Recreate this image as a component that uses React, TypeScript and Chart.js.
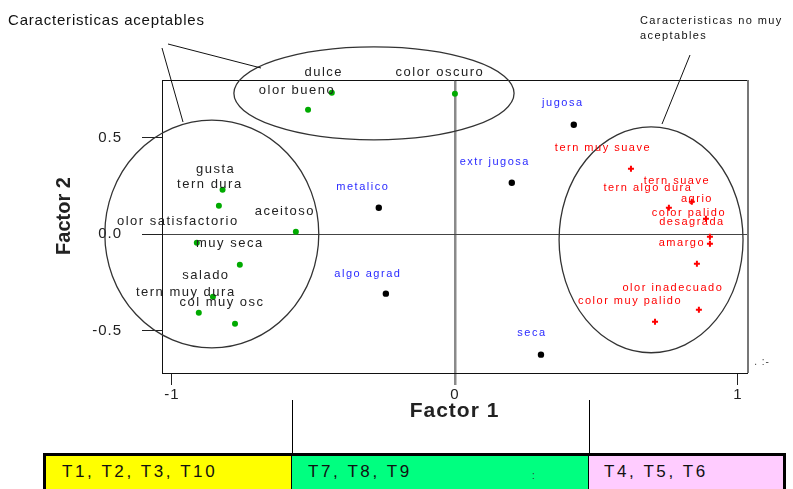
import React, { useEffect, useRef } from "react";
import { Chart, registerables } from "chart.js";

Chart.register(...registerables);

// ---- data (factor loadings) ----
const GREEN_LABELS = ["dulce", "olor bueno", "color oscuro", "gusta", "tern dura", "aceitoso", "olor satisfactorio", "muy seca", "salado", "tern muy dura", "col muy osc"];
const GREEN_X = [-0.435, -0.519, 0.0, -0.821, -0.834, -0.562, -0.912, -0.760, -0.855, -0.905, -0.777];
const GREEN_Y = [0.732, 0.644, 0.727, 0.230, 0.147, 0.012, -0.045, -0.159, -0.325, -0.408, -0.465];

const BLUE_LABELS = ["jugosa", "extr jugosa", "metalico", "algo agrad", "seca"];
const BLUE_X = [0.420, 0.201, -0.269, -0.244, 0.304];
const BLUE_Y = [0.566, 0.266, 0.136, -0.309, -0.625];

const RED_LABELS = ["tern muy suave", "tern suave", "tern algo dura", "agrio", "color palido", "desagrada", "amargo", "olor inadecuado", "color muy palido"];
const RED_X = [0.622, 0.837, 0.756, 0.887, 0.901, 0.901, 0.855, 0.862, 0.707];
const RED_Y = [0.338, 0.167, 0.136, 0.079, -0.014, -0.050, -0.154, -0.392, -0.455];

const X_TICKS = [-1, 0, 1];
const Y_TICKS = [-0.5, 0, 0.5];
const X_RANGE = [-1.035, 1.032];
const Y_RANGE = [-0.72, 0.798];

const GROUP_LABELS = ["T1, T2, T3, T10", "T7, T8, T9", "T4, T5, T6"];

// label offsets in px (label centre relative to its point)
const GREEN_OFF = [[-8, -20], [-11, -19], [-15, -21], [-7, -20], [-9, -21], [-11, -20], [-19, -21], [-10, -21], [-7, -21], [-13, -20], [-13, -21]];
const BLUE_OFF = [[-11, -22], [-17, -21], [-16, -21], [-18, -20], [-9, -22]];
const RED_OFF = [[-28, -21], [-15, -21], [-21, -20], [-9, -20], [-21, -24], [-18, -22], [-15, -21], [-26, -22], [-25, -21]];

// grouping ellipses in data units
const ELLIPSES = [
  { cx: -0.286, cy: 0.729, rx: 0.495, ry: 0.241 },
  { cx: -0.859, cy: 0.0, rx: 0.378, ry: 0.59 },
  { cx: 0.693, cy: -0.03, rx: 0.325, ry: 0.585 },
];

const FONT = "Arial, 'Liberation Sans', Helvetica, sans-serif";

const LABEL_STYLE = [
  { labels: GREEN_LABELS, offsets: GREEN_OFF, color: "#222222", size: 13 },
  { labels: BLUE_LABELS, offsets: BLUE_OFF, color: "#2a2aff", size: 11 },
  { labels: RED_LABELS, offsets: RED_OFF, color: "#ff0000", size: 11 },
];

const decor = {
  id: "decor",
  beforeDraw(chart: any) {
    chart.ctx.letterSpacing = "1px";
  },
  beforeDatasetsDraw(chart: any) {
    const { ctx, chartArea: a } = chart;
    ctx.save();
    ctx.strokeStyle = "#111";
    ctx.lineWidth = 1;
    ctx.beginPath();
    ctx.moveTo(a.left, a.top + 0.5);
    ctx.lineTo(a.right, a.top + 0.5);
    ctx.stroke();
    ctx.strokeStyle = "#777";
    ctx.lineWidth = 2;
    ctx.beginPath();
    ctx.moveTo(a.right + 1, a.top);
    ctx.lineTo(a.right + 1, a.bottom);
    ctx.stroke();
    ctx.restore();
  },
  afterDatasetsDraw(chart: any) {
    const { ctx, scales } = chart;
    const x = scales.x;
    const y = scales.y;
    ctx.save();
    // ellipses
    ctx.strokeStyle = "#333";
    ctx.lineWidth = 1.3;
    ELLIPSES.forEach((e) => {
      const cx = x.getPixelForValue(e.cx);
      const cy = y.getPixelForValue(e.cy);
      const rx = Math.abs(x.getPixelForValue(e.cx + e.rx) - cx);
      const ry = Math.abs(y.getPixelForValue(e.cy + e.ry) - cy);
      ctx.beginPath();
      ctx.ellipse(cx, cy, rx, ry, 0, 0, Math.PI * 2);
      ctx.stroke();
    });
    // pointer lines
    ctx.strokeStyle = "#111";
    ctx.lineWidth = 1;
    const seg = (x1: number, y1: number, x2: number, y2: number) => {
      ctx.beginPath();
      ctx.moveTo(x1, y1);
      ctx.lineTo(x2, y2);
      ctx.stroke();
    };
    seg(168, 44, 261, 68);
    seg(162, 48, 183, 122);
    seg(690, 55, 662, 124);

    // point labels
    ctx.textAlign = "center";
    ctx.textBaseline = "middle";
    ctx.letterSpacing = "1.5px";
    LABEL_STYLE.forEach((s, di) => {
      const meta = chart.getDatasetMeta(di);
      ctx.fillStyle = s.color;
      ctx.font = `${s.size}px ${FONT}`;
      meta.data.forEach((el: any, j: number) => {
        const off = s.offsets[j];
        ctx.fillText(s.labels[j], el.x + off[0], el.y + off[1]);
      });
    });

    // small stray marks near the lower-right corner
    ctx.fillStyle = "#444";
    ctx.font = `10px ${FONT}`;
    ctx.letterSpacing = "1px";
    ctx.fillText(". :-", 762, 362);

    // y-axis title
    ctx.letterSpacing = "0px";
    ctx.fillStyle = "#222";
    ctx.font = `bold 20px ${FONT}`;
    ctx.translate(64, 216);
    ctx.rotate(-Math.PI / 2);
    ctx.fillText("Factor 2", 0, 0);
    ctx.restore();
  },
};

export default function App() {
  const ref = useRef<HTMLCanvasElement>(null);
  useEffect(() => {
    const chart = new Chart(ref.current as HTMLCanvasElement, {
      type: "scatter",
      data: {
        datasets: [
          {
            data: GREEN_X.map((v, i) => ({ x: v, y: GREEN_Y[i] })),
            pointStyle: "circle",
            pointRadius: 3,
            backgroundColor: "#00aa00",
            borderColor: "#00aa00",
            borderWidth: 0,
          },
          {
            data: BLUE_X.map((v, i) => ({ x: v, y: BLUE_Y[i] })),
            pointStyle: "circle",
            pointRadius: 3.2,
            backgroundColor: "#000",
            borderColor: "#000",
            borderWidth: 0,
          },
          {
            data: RED_X.map((v, i) => ({ x: v, y: RED_Y[i] })),
            pointStyle: "cross",
            pointRadius: 3,
            backgroundColor: "#ff0000",
            borderColor: "#ff0000",
            borderWidth: 2,
          },
        ],
      } as any,
      options: {
        responsive: false,
        animation: false,
        events: [],
        layout: { padding: { left: 0, top: 80, right: 46, bottom: 0 } },
        plugins: { legend: { display: false }, tooltip: { enabled: false } },
        scales: {
          x: {
            type: "linear",
            position: "bottom",
            min: X_RANGE[0],
            max: X_RANGE[1],
            afterBuildTicks: (s: any) => {
              s.ticks = X_TICKS.map((v) => ({ value: v }));
            },
            afterFit: (s: any) => {
              s.height = 116;
            },
            ticks: {
              callback: (v: any) => String(v),
              font: { family: FONT, size: 15 },
              color: "#222",
              padding: 1,
              maxRotation: 0,
            },
            grid: {
              color: (c: any) => (c.tick && c.tick.value === 0 ? "#8a8a8a" : "rgba(0,0,0,0)"),
              lineWidth: (c: any) => (c.tick && c.tick.value === 0 ? 2.5 : 1),
              tickColor: (c: any) => (c.tick && c.tick.value === 0 ? "#8a8a8a" : "#222"),
              tickLength: 12,
            },
            border: { display: true, color: "#111", width: 1 },
            title: {
              display: true,
              text: "Factor 1",
              color: "#222",
              font: { family: FONT, size: 21, weight: "bold" },
              padding: { top: 0, bottom: 65 },
            },
          },
          y: {
            type: "linear",
            position: "left",
            min: Y_RANGE[0],
            max: Y_RANGE[1],
            afterBuildTicks: (s: any) => {
              s.ticks = Y_TICKS.map((v) => ({ value: v }));
            },
            afterFit: (s: any) => {
              s.width = 162;
            },
            ticks: {
              callback: (v: any) => Number(v).toFixed(1),
              font: { family: FONT, size: 15 },
              color: "#222",
              padding: 20,
            },
            grid: {
              color: (c: any) => (c.tick && c.tick.value === 0 ? "#444" : "rgba(0,0,0,0)"),
              lineWidth: 1,
              tickColor: "#222",
              tickLength: 20,
            },
            border: { display: true, color: "#111", width: 1 },
          },
        },
      } as any,
      plugins: [decor as any],
    });
    return () => chart.destroy();
  }, []);

  const boxText: React.CSSProperties = {
    font: `17px ${FONT}`,
    letterSpacing: "2.6px",
    color: "#111",
    lineHeight: "20px",
    paddingTop: 6,
    paddingLeft: 16,
    boxSizing: "border-box",
    height: "100%",
    whiteSpace: "nowrap",
    position: "relative",
  };

  return (
    <div style={{ position: "absolute", left: 0, top: 0, width: 793, height: 489, overflow: "hidden", background: "#fff" }}>
      <canvas ref={ref} width={793} height={489} style={{ display: "block", width: 793, height: 489 }} />
      <div style={{ position: "absolute", left: 8, top: 11, font: `15px ${FONT}`, letterSpacing: "0.8px", color: "#111", lineHeight: "18px", whiteSpace: "nowrap" }}>
        Caracteristicas aceptables
      </div>
      <div style={{ position: "absolute", left: 640, top: 13, font: `11px ${FONT}`, letterSpacing: "1.4px", color: "#111", lineHeight: "15px", whiteSpace: "nowrap" }}>
        Caracteristicas no muy
        <br />
        aceptables
      </div>
      <div style={{ position: "absolute", left: 292, top: 400, width: 1, height: 54, background: "#000" }} />
      <div style={{ position: "absolute", left: 589, top: 400, width: 1, height: 54, background: "#000" }} />
      <div
        style={{
          position: "absolute",
          left: 43,
          top: 453,
          width: 743,
          height: 36,
          borderTop: "3px solid #000",
          borderLeft: "3px solid #000",
          borderRight: "3px solid #000",
          boxSizing: "border-box",
          display: "flex",
        }}
      >
        <div style={{ ...boxText, width: 246, background: "#ffff00", borderRight: "1px solid #000" }}>{GROUP_LABELS[0]}</div>
        <div style={{ ...boxText, width: 297, background: "#00ff80", borderRight: "1px solid #000" }}>
          {GROUP_LABELS[1]}
          <span style={{ position: "absolute", left: 240, top: 14, font: `10px ${FONT}`, letterSpacing: 0, color: "#333" }}>:</span>
        </div>
        <div style={{ ...boxText, flex: 1, background: "#ffccff", paddingLeft: 15 }}>{GROUP_LABELS[2]}</div>
      </div>
    </div>
  );
}
